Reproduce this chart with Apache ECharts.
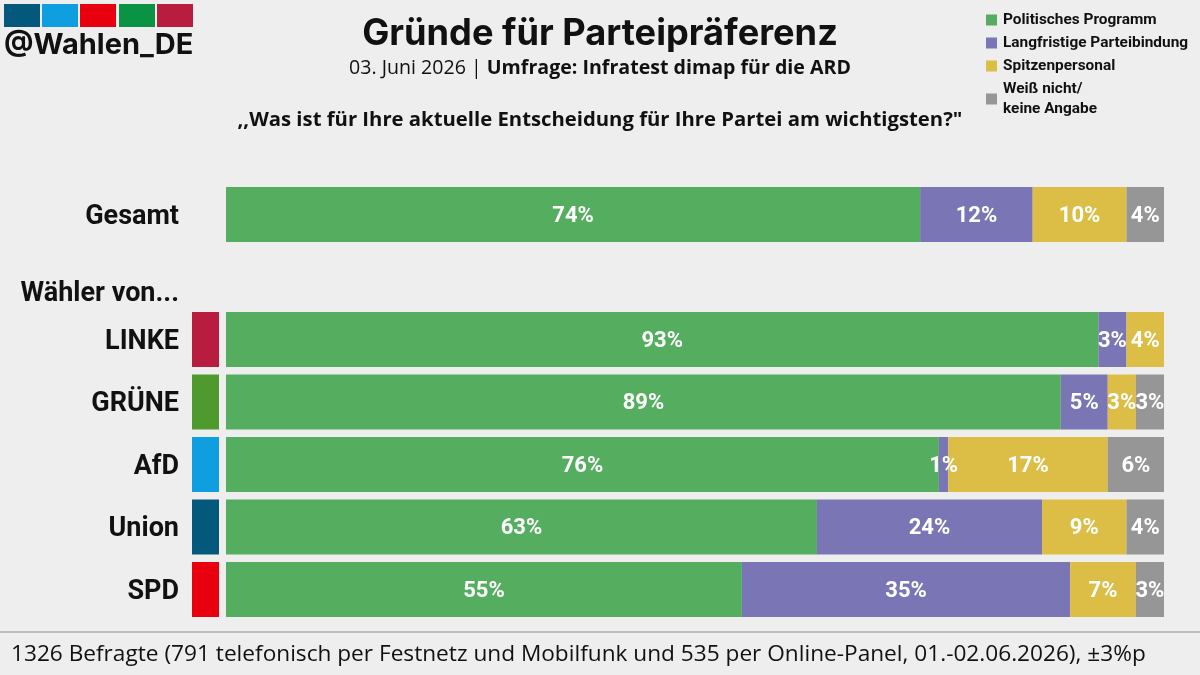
<!DOCTYPE html>
<html><head><meta charset="utf-8">
<style>html,body{margin:0;padding:0;background:#eeeeee}#c{width:1200px;height:675px}</style>
<script src="https://cdn.jsdelivr.net/npm/echarts@6/dist/echarts.min.js"></script>
</head><body><div id="c"></div>
<script>
const categories = ['Gesamt', '', 'LINKE', 'GRÜNE', 'AfD', 'Union', 'SPD'];
const programm =   [74, null, 93, 89, 76, 63, 55];
const bindung =    [12, null, 3, 5, 1, 24, 35];
const personal =   [10, null, 4, 3, 17, 9, 7];
const weissNicht = [4, null, null, 3, 6, 4, 3];
const seriesNames = ['Politisches Programm', 'Langfristige Parteibindung', 'Spitzenpersonal', 'Weiß nicht/\nkeine Angabe'];
const seriesColors = ['#55ad5f', '#7a76b6', '#dcbd45', '#969696'];
const partyColors = [null, null, '#b81d3f', '#4f9a2f', '#0f9fe0', '#04587c', '#e8000f'];
const logoColors = ['#04587c', '#0f9fe0', '#e8000f', '#0a9345', '#b81d3f'];
const titleText = 'Gründe für Parteipräferenz';
const dateText = '03. Juni 2026';
const sourceText = 'Umfrage: Infratest dimap für die ARD';
const questionText = ',,Was ist für Ihre aktuelle Entscheidung für Ihre Partei am wichtigsten?"';
const groupText = 'Wähler von...';
const handleText = '@Wahlen_DE';
const footerText = '1326 Befragte (791 telefonisch per Festnetz und Mobilfunk und 535 per Online-Panel, 01.-02.06.2026), ±3%p';

const chart = echarts.init(document.getElementById('c'), null, {renderer: 'canvas'});
const values = [programm, bindung, personal, weissNicht];
const gridTop = 183.25, gridH = 437.5;
const logoX = [4, 42, 80, 119, 157];
chart.setOption({
  backgroundColor: '#eeeeee',
  animation: false,
  title: [
    {text: titleText, left: 600, top: 11, padding: [5, 0, 5, 0], textAlign: 'center',
     textStyle: {fontFamily: 'Inter', fontSize: 36.2, fontWeight: 700, color: '#111'}},
    {text: questionText, left: 600, top: 105, padding: [5, 0, 5, 0], textAlign: 'center',
     textStyle: {fontFamily: 'Open Sans', fontSize: 20.3, fontWeight: 700, color: '#111'}}
  ],
  legend: {
    orient: 'vertical', left: 986, top: 10, padding: 0, itemWidth: 11, itemHeight: 11, itemGap: 3,
    icon: 'rect', selectedMode: false,
    data: seriesNames,
    textStyle: {fontFamily: 'Roboto', fontSize: 15.4, fontWeight: 700, color: '#111', lineHeight: 20, padding: [0, 0, 0, 1]}
  },
  grid: [
    {left: 226, width: 938, top: gridTop, height: gridH},
    {left: 192, width: 27, top: gridTop, height: gridH}
  ],
  xAxis: [
    {gridIndex: 0, type: 'value', min: 0, max: 100, show: false},
    {gridIndex: 1, type: 'value', min: 0, max: 1, show: false}
  ],
  yAxis: [
    {gridIndex: 0, type: 'category', data: categories, inverse: true, show: false},
    {gridIndex: 1, type: 'category', data: categories, inverse: true,
     axisLine: {show: false}, axisTick: {show: false},
     axisLabel: {margin: 13, formatter: v => v ? '{v|' + v + '}' : '',
       rich: {v: {fontFamily: 'Roboto', fontSize: 27, fontWeight: 700, color: '#111', padding: [5, 0, 0, 0]}}}}
  ],
  series: [
    ...seriesNames.map((name, i) => ({
      name, type: 'bar', stack: 'total', xAxisIndex: 0, yAxisIndex: 0,
      barWidth: 55, data: values[i],
      itemStyle: {color: seriesColors[i]},
      label: {show: true, position: 'inside', offset: [0, 1.5], formatter: p => p.value + '%',
        fontFamily: 'Roboto', fontSize: 22, fontWeight: 700, color: '#fff'}
    })),
    {name: 'Partei', type: 'bar', xAxisIndex: 1, yAxisIndex: 1, barWidth: 55,
     data: partyColors.map(c => c ? {value: 1, itemStyle: {color: c}} : null)}
  ],
  graphic: [
    ...logoColors.map((c, i) => ({type: 'rect', shape: {x: logoX[i], y: 4, width: 36, height: 23}, style: {fill: c}})),
    {type: 'text', x: 4, y: 31, style: {text: handleText, font: '700 29px "Inter"', fill: '#111'}},
    {type: 'text', x: 600, y: 58, style: {
      text: '{a|' + dateText + ' | }{b|' + sourceText + '}', align: 'center',
      rich: {a: {font: '400 19.6px "Open Sans"', fill: '#111'}, b: {font: '700 19.6px "Open Sans"', fill: '#111'}}}},
    {type: 'text', x: 179, y: 281, style: {text: groupText, align: 'right', font: '700 27px "Roboto"', fill: '#111'}},
    {type: 'line', shape: {x1: 0, y1: 632, x2: 1200, y2: 632}, style: {stroke: '#8c8c8c', lineWidth: 1}},
    {type: 'text', x: 11, y: 643, style: {text: footerText, font: '400 22.65px "Open Sans"', fill: '#111'}}
  ]
});
</script></body></html>
